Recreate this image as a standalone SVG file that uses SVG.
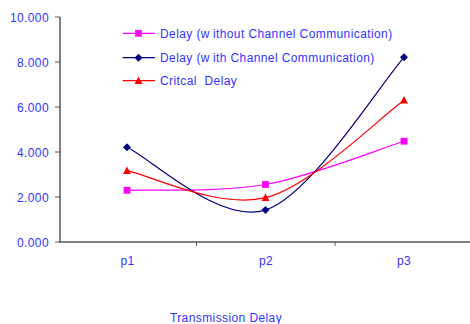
<svg xmlns="http://www.w3.org/2000/svg" width="470" height="324" viewBox="0 0 470 324">
<style>
.t{font-family:"Liberation Sans",Arial,sans-serif;font-size:12px;letter-spacing:0.4px;fill:#3333ff}
.ax{stroke:#555;stroke-width:1.5;fill:none}
.tk{stroke:#555;stroke-width:1;fill:none}
.s{fill:none;stroke-width:1.2}
.pk{stroke:#ff00ff}
.nv{stroke:#000080}
.rd{stroke:#ff0000}
</style>
<defs>
<rect id="sq" x="-3.4" y="-3.4" width="6.8" height="6.8" fill="#ff00ff"/>
<path id="dm" d="M0,-4 L4,0 L0,4 L-4,0 Z" fill="#000080"/>
<path id="tr" d="M0,-4.2 L4,3.2 L-4,3.2 Z" fill="#ff0000"/>
</defs>
<rect width="470" height="324" fill="#ffffff"/>
<g id="axes">
<path class="ax" d="M60,17 V242 H470"/>
<path class="tk" d="M55,17H60M55,62H60M55,107H60M55,152H60M55,197H60M55,242H60M196.5,242V246M335,242V246"/>
</g>
<g id="y-labels" class="t" text-anchor="end">
<text x="49" y="21.7">10.000</text>
<text x="49" y="66.5">8.000</text>
<text x="49" y="111.5">6.000</text>
<text x="49" y="156.5">4.000</text>
<text x="49" y="201.5">2.000</text>
<text x="49" y="246.5">0.000</text>
</g>
<g id="x-labels" class="t" text-anchor="middle">
<text x="127.5" y="264.5">p1</text>
<text x="266" y="264.5">p2</text>
<text x="404" y="264.5">p3</text>
<text x="226" y="322.3">Transmission Delay</text>
</g>
<g id="connectors">
<path class="s pk" d="M127,190.3 C150.1,189.3 219.3,192.7 265.5,184.5 C311.7,176.3 380.9,148.4 404,141.2"/>
<path class="s nv" d="M127,147.3 C150.1,157.8 219.3,225 265.5,210 C311.7,195 380.9,82.8 404,57.3"/>
<path class="s rd" d="M127,170.7 C150.1,175.2 219.3,209.4 265.5,197.7 C311.7,186 380.9,116.5 404,100.3"/>
</g>
<g id="series-without">
<use href="#sq" x="127" y="190.3"/>
<use href="#sq" x="265.5" y="184.5"/>
<use href="#sq" x="404" y="141.2"/>
</g>
<g id="series-with">
<use href="#dm" x="127" y="147.3"/>
<use href="#dm" x="265.5" y="210"/>
<use href="#dm" x="404" y="57.3"/>
</g>
<g id="series-critical">
<use href="#tr" x="127" y="170.7"/>
<use href="#tr" x="265.5" y="197.7"/>
<use href="#tr" x="404" y="100.3"/>
</g>
<g id="legend">
<path class="s pk" d="M122.7,33.3H155"/>
<use href="#sq" x="138.5" y="33.3"/>
<path class="s nv" d="M122.7,57.7H155"/>
<use href="#dm" x="138.5" y="57.7"/>
<path class="s rd" d="M122.7,80.7H155"/>
<use href="#tr" x="138.5" y="80.7"/>
<text class="t" x="160" y="38">Delay (w<tspan dx="3">ithout Channel Communication)</tspan></text>
<text class="t" x="160" y="62">Delay (w<tspan dx="3">ith Channel Communication)</tspan></text>
<text class="t" x="160" y="85">Critcal<tspan dx="4"> Delay</tspan></text>
</g>
</svg>
